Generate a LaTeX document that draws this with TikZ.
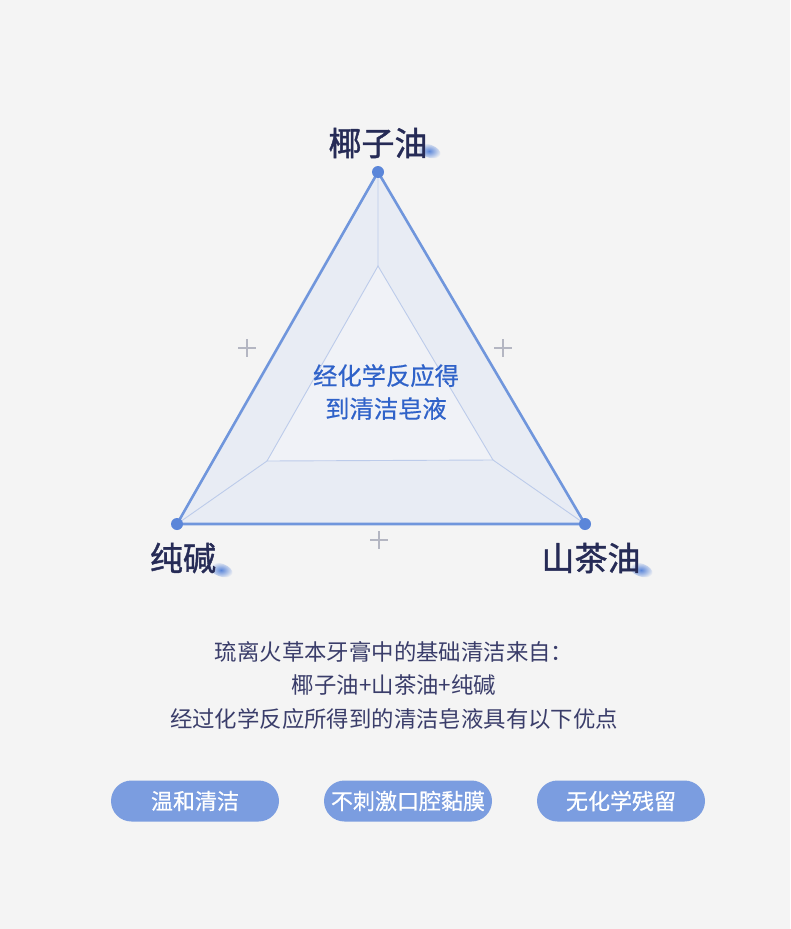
\documentclass[tikz,border=0pt]{standalone}
\usepackage{fontspec}
\newfontfamily\cjk{Noto Sans CJK SC}
\newfontfamily\cjkbold[FakeBold=1.3]{Noto Sans CJK SC}
\newfontfamily\cjkmid[FakeBold=0.6]{Noto Sans CJK SC}
\usetikzlibrary{positioning,calc}

\definecolor{bgcol}{HTML}{F4F4F4}
\definecolor{trifill}{HTML}{E8ECF4}
\definecolor{edgecol}{HTML}{7096DC}
\definecolor{thincol}{HTML}{BCCBEA}
\definecolor{dotcol}{HTML}{5B86D9}
\definecolor{navy}{HTML}{262B56}
\definecolor{bodycol}{HTML}{3A3D6A}
\definecolor{centercol}{HTML}{2F62C9}
\definecolor{pillcol}{HTML}{7B9DE0}
\definecolor{pluscol}{HTML}{B4B6C2}

\begin{document}
\begin{tikzpicture}[x=1pt,y=-1pt,
  ingredient/.style={font=\cjkbold\fontsize{33}{33}\selectfont, text=navy, inner sep=0pt},
  pill/.style={rounded corners=20.5pt, fill=pillcol, minimum width=168pt, minimum height=41pt, inner sep=0pt, text=white, font=\cjkmid\fontsize{22}{22}\selectfont},
  smudge/.style={inner color=dotcol, outer color=bgcol},
  plusmark/.style={pluscol, line width=2.6pt}]
\fill[bgcol] (0,0) rectangle (790,929);
\useasboundingbox (0,0) rectangle (790,929);

% triangle corners
\coordinate (ya) at (378,172);
\coordinate (chun) at (177,524);
\coordinate (shan) at (585,524);
\coordinate (iya) at (378,266);
\coordinate (ichun) at (267,461);
\coordinate (ishan) at (493,460);

\fill[trifill] (ya) -- (chun) -- (shan) -- cycle;
\fill[white, opacity=0.35] (iya) -- (ichun) -- (ishan) -- cycle;
\draw[thincol, line width=0.9pt] (iya) -- (ichun) -- (ishan) -- cycle;
\draw[thincol, line width=0.9pt] (ya) -- (iya) (chun) -- (ichun) (shan) -- (ishan);
\draw[edgecol, line width=2.6pt, line join=round] (ya) -- (chun) -- (shan) -- cycle;
\foreach \p in {ya,chun,shan}
  \fill[dotcol] (\p) circle (6);

% plus marks
\foreach \x/\y in {247/348, 503/348, 379/540}
  \draw[plusmark] (\x-9,\y) -- (\x+9,\y) (\x,\y-9) -- (\x,\y+9);

% smudges under the last characters
\shade[smudge, rotate around={-20:(429,151)}] (429,151) ellipse (12 and 6.5);
\shade[smudge, rotate around={-20:(221,570)}] (221,570) ellipse (12 and 6.5);
\shade[smudge, rotate around={-20:(641,570)}] (641,570) ellipse (12 and 6.5);

\node[ingredient] (yazi) at (378,143) {椰子油};
\node[ingredient] (chunjian) at (183,558) {纯碱};
\node[ingredient] (shancha) at (591,558) {山茶油};

\node[font=\cjkmid\fontsize{24.3}{33}\selectfont, text=centercol, align=center, inner sep=0pt] (result) at (386,392) {经化学反应得\\到清洁皂液};

\node[font=\cjk\fontsize{22.4}{33.5}\selectfont, text=bodycol, align=center, inner sep=0pt] (intro) at (394,685)
  {琉离火草本牙膏中的基础清洁来自：\\椰子油+山茶油+纯碱\\经过化学反应所得到的清洁皂液具有以下优点};

\node[pill] (mild) at (195,801) {温和清洁};
\node[pill] (gentle) at (408,801) {不刺激口腔黏膜};
\node[pill] (residue) at (621,801) {无化学残留};
\end{tikzpicture}
\end{document}
